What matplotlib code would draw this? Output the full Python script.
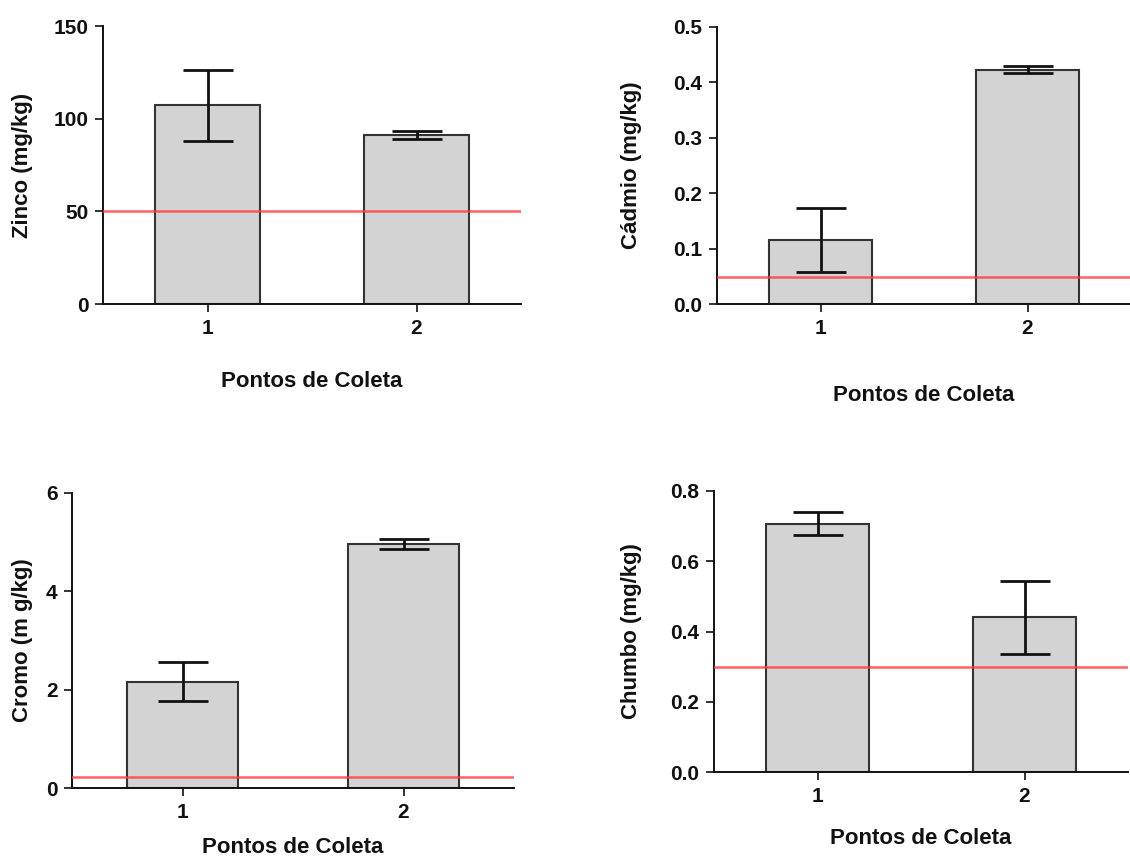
import numpy as np
import matplotlib
matplotlib.use("Agg")
import matplotlib.pyplot as plt
from matplotlib.ticker import FormatStrFormatter

plt.rcParams["font.family"] = ["Liberation Sans", "DejaVu Sans"]
plt.rcParams["font.weight"] = "bold"

pontos = ["1", "2"]

zinco_mean = [107.3, 91.3]
zinco_err = [19.2, 2.3]
zinco_ref = 50

cadmio_mean = [0.115, 0.423]
cadmio_err = [0.058, 0.006]
cadmio_ref = 0.048

cromo_mean = [2.16, 4.96]
cromo_err = [0.40, 0.095]
cromo_ref = 0.23

chumbo_mean = [0.707, 0.44]
chumbo_err = [0.033, 0.104]
chumbo_ref = 0.30

# pixel box of each axes in the 1130x861 picture: left, top, right, bottom
panels = [
    dict(mean=zinco_mean, err=zinco_err, ref=zinco_ref, ylabel="Zinco (mg/kg)",
         ylim=150, yticks=[0, 50, 100, 150], fmt="%d", box=(103, 26, 521, 304),
         ylab_x=33, xlab_pad=24),
    dict(mean=cadmio_mean, err=cadmio_err, ref=cadmio_ref, ylabel="Cádmio (mg/kg)",
         ylim=0.5, yticks=[0, 0.1, 0.2, 0.3, 0.4, 0.5], fmt="%.1f", box=(717, 27, 1131, 304),
         ylab_x=642, xlab_pad=34),
    dict(mean=cromo_mean, err=cromo_err, ref=cromo_ref, ylabel="Cromo (m g/kg)",
         ylim=6, yticks=[0, 2, 4, 6], fmt="%d", box=(72, 493, 514, 788),
         ylab_x=33, xlab_pad=11),
    dict(mean=chumbo_mean, err=chumbo_err, ref=chumbo_ref, ylabel="Chumbo (mg/kg)",
         ylim=0.8, yticks=[0, 0.2, 0.4, 0.6, 0.8], fmt="%.1f", box=(714, 491, 1128, 772),
         ylab_x=642, xlab_pad=16),
]

W, H = 1130, 861
fig = plt.figure(figsize=(W / 100, H / 100), dpi=100)

for p in panels:
    l, t, r, b = p["box"]
    ax = fig.add_axes([l / W, 1 - b / H, (r - l) / W, (b - t) / H])
    x = np.arange(len(pontos))
    ax.bar(x, p["mean"], width=0.5, color="#d3d3d3", edgecolor="#333333", linewidth=1.5, zorder=2)
    ax.errorbar(x, p["mean"], yerr=p["err"], fmt="none", ecolor="#111111",
                elinewidth=2, capsize=18, capthick=2, zorder=3)
    ax.axhline(p["ref"], color="#ff3b3b", alpha=0.8, linewidth=1.8, zorder=4)

    ax.set_xlim(-0.5, 1.5)
    ax.set_ylim(0, p["ylim"])
    ax.set_xticks(x, pontos)
    ax.set_yticks(p["yticks"])
    ax.yaxis.set_major_formatter(FormatStrFormatter(p["fmt"]))

    for s in ["top", "right"]:
        ax.spines[s].set_visible(False)
    for s in ["left", "bottom"]:
        ax.spines[s].set_linewidth(1.4)
        ax.spines[s].set_color("#111111")
    ax.tick_params(direction="out", length=5.5, width=1.2, colors="#111111",
                   labelsize=15, pad=5)
    for lab in ax.get_xticklabels() + ax.get_yticklabels():
        lab.set_fontweight("bold")

    ax.set_xlabel("Pontos de Coleta", fontsize=16, fontweight="bold",
                  labelpad=p["xlab_pad"], color="#111111")
    ax.set_ylabel(p["ylabel"], fontsize=16, fontweight="bold", color="#111111")
    ax.yaxis.set_label_coords((p["ylab_x"] - l) / (r - l), 0.5)

fig.savefig("out.png", dpi=100)
